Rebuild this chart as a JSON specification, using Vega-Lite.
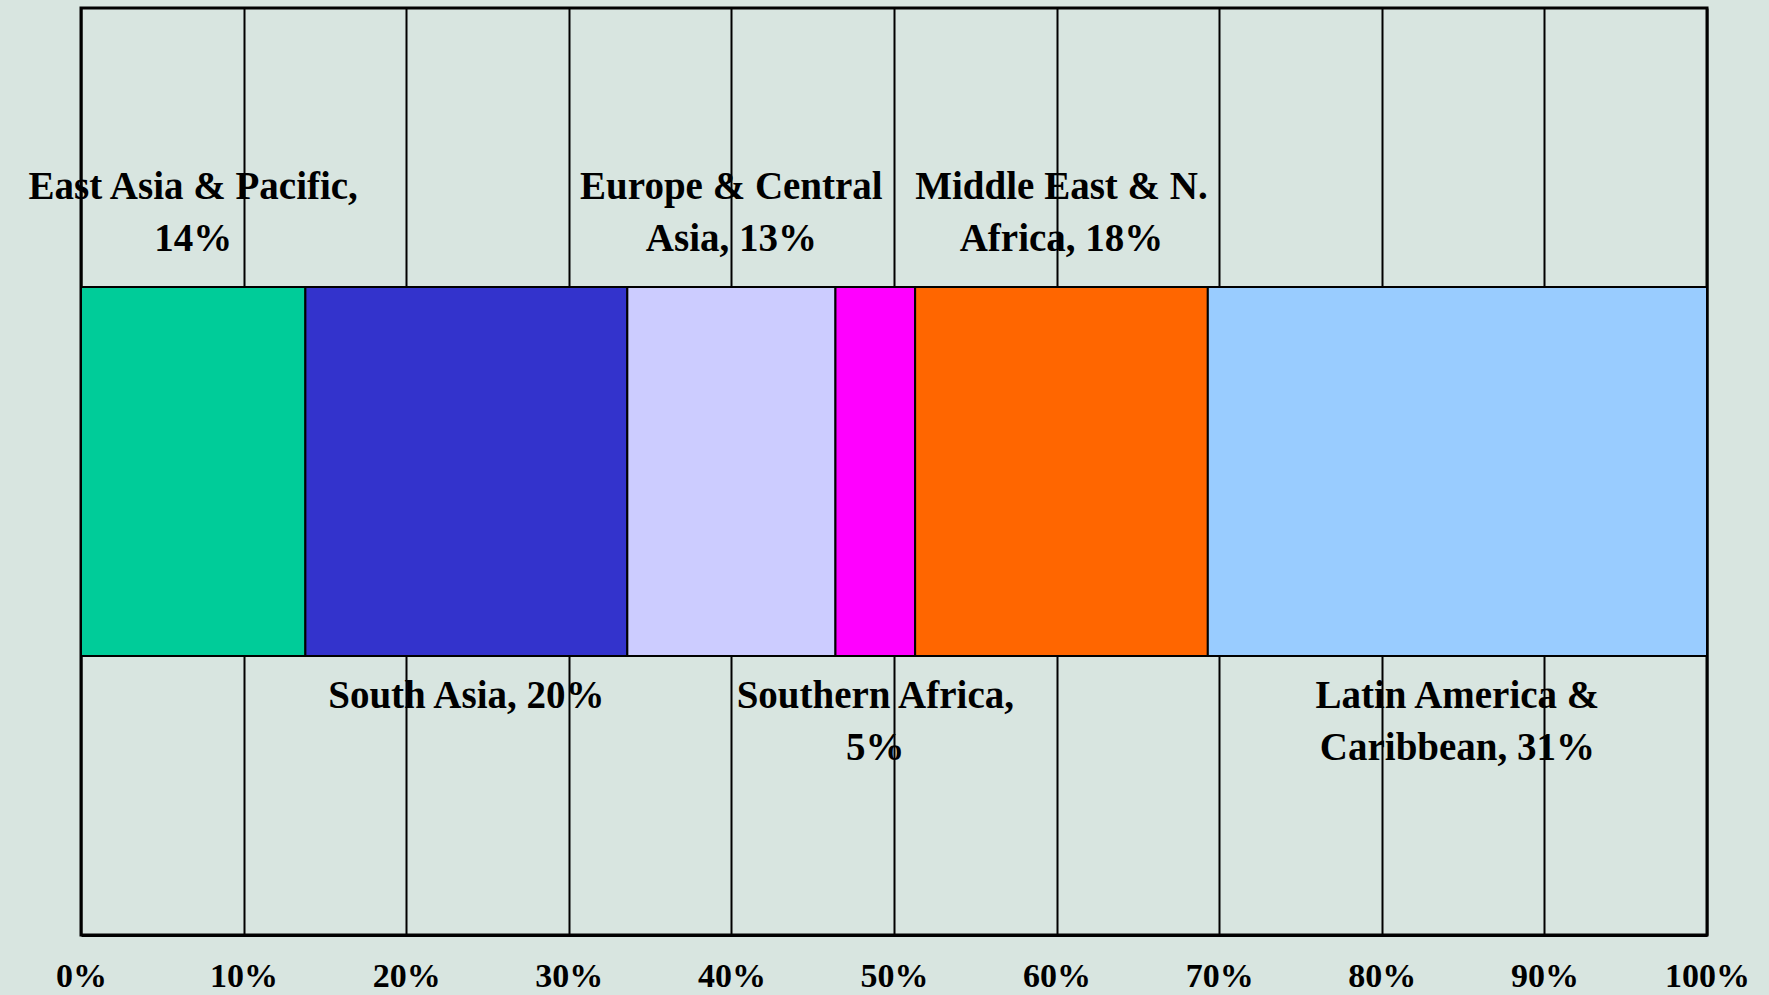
{
  "$schema": "https://vega.github.io/schema/vega-lite/v6.json",
  "autosize": {"type": "none"},
  "padding": {"left": 81, "top": 8, "right": 62, "bottom": 60},
  "width": 1626,
  "height": 927,
  "background": "#d8e5e0",
  "config": {
    "view": {"stroke": "#000000", "strokeWidth": 3, "fill": null},
    "font": "Liberation Serif"
  },
  "data": {
    "values": [
      {"group": "Regions", "order": 1, "region": "East Asia & Pacific", "share": 0.138, "label": "East Asia & Pacific,\n14%", "side": "above"},
      {"group": "Regions", "order": 2, "region": "South Asia", "share": 0.198, "label": "South Asia, 20%", "side": "below"},
      {"group": "Regions", "order": 3, "region": "Europe & Central Asia", "share": 0.128, "label": "Europe & Central\nAsia, 13%", "side": "above"},
      {"group": "Regions", "order": 4, "region": "Southern Africa", "share": 0.049, "label": "Southern Africa,\n5%", "side": "below"},
      {"group": "Regions", "order": 5, "region": "Middle East & N. Africa", "share": 0.180, "label": "Middle East & N.\nAfrica, 18%", "side": "above"},
      {"group": "Regions", "order": 6, "region": "Latin America & Caribbean", "share": 0.307, "label": "Latin America &\nCaribbean, 31%", "side": "below"}
    ]
  },
  "transform": [
    {"stack": "share", "groupby": ["group"], "sort": [{"field": "order"}], "as": ["x0", "x1"]}
  ],
  "encoding": {
    "y": {
      "field": "group",
      "type": "nominal",
      "axis": null,
      "scale": {"paddingInner": 0, "paddingOuter": 0.756}
    }
  },
  "layer": [
    {
      "mark": {"type": "bar", "stroke": "#000000", "strokeWidth": 2, "opacity": 1},
      "encoding": {
        "x": {
          "field": "x0",
          "type": "quantitative",
          "scale": {"domain": [0, 1], "nice": false},
          "axis": {
            "values": [0, 0.1, 0.2, 0.3, 0.4, 0.5, 0.6, 0.7, 0.8, 0.9, 1],
            "format": ".0%",
            "title": null,
            "grid": true,
            "gridColor": "#000000",
            "gridWidth": 2,
            "gridOpacity": 1,
            "domainColor": "#000000",
            "domainWidth": 3,
            "ticks": false,
            "tickSize": 0,
            "labelPadding": 24,
            "labelFont": "Liberation Serif",
            "labelFontWeight": "bold",
            "labelFontSize": 34,
            "labelColor": "#000000",
            "labelFlush": false,
            "labelOverlap": false
          }
        },
        "x2": {"field": "x1"},
        "color": {
          "field": "region",
          "type": "nominal",
          "legend": null,
          "scale": {
            "domain": ["East Asia & Pacific", "South Asia", "Europe & Central Asia", "Southern Africa", "Middle East & N. Africa", "Latin America & Caribbean"],
            "range": ["#00CC99", "#3333CC", "#CCCCFF", "#FF00FF", "#FF6600", "#99CCFF"]
          }
        }
      }
    },
    {
      "transform": [
        {"filter": "datum.side == 'above'"},
        {"fold": ["x0", "x1"], "as": ["edge", "pos"]},
        {"aggregate": [{"op": "mean", "field": "pos", "as": "mid"}], "groupby": ["group", "region", "label"]}
      ],
      "mark": {"type": "text", "font": "Liberation Serif", "fontWeight": "bold", "fontSize": 39, "lineHeight": 52, "baseline": "middle", "align": "center", "dy": -100, "lineBreak": "\n", "color": "#000000"},
      "encoding": {
        "x": {"field": "mid", "type": "quantitative"},
        "y": {"field": "group", "type": "nominal", "bandPosition": 0},
        "text": {"field": "label"}
      }
    },
    {
      "transform": [
        {"filter": "datum.side == 'below'"},
        {"fold": ["x0", "x1"], "as": ["edge", "pos"]},
        {"aggregate": [{"op": "mean", "field": "pos", "as": "mid"}], "groupby": ["group", "region", "label"]}
      ],
      "mark": {"type": "text", "font": "Liberation Serif", "fontWeight": "bold", "fontSize": 39, "lineHeight": 52, "baseline": "middle", "align": "center", "dy": 40, "lineBreak": "\n", "color": "#000000"},
      "encoding": {
        "x": {"field": "mid", "type": "quantitative"},
        "y": {"field": "group", "type": "nominal", "bandPosition": 1},
        "text": {"field": "label"}
      }
    }
  ]
}
